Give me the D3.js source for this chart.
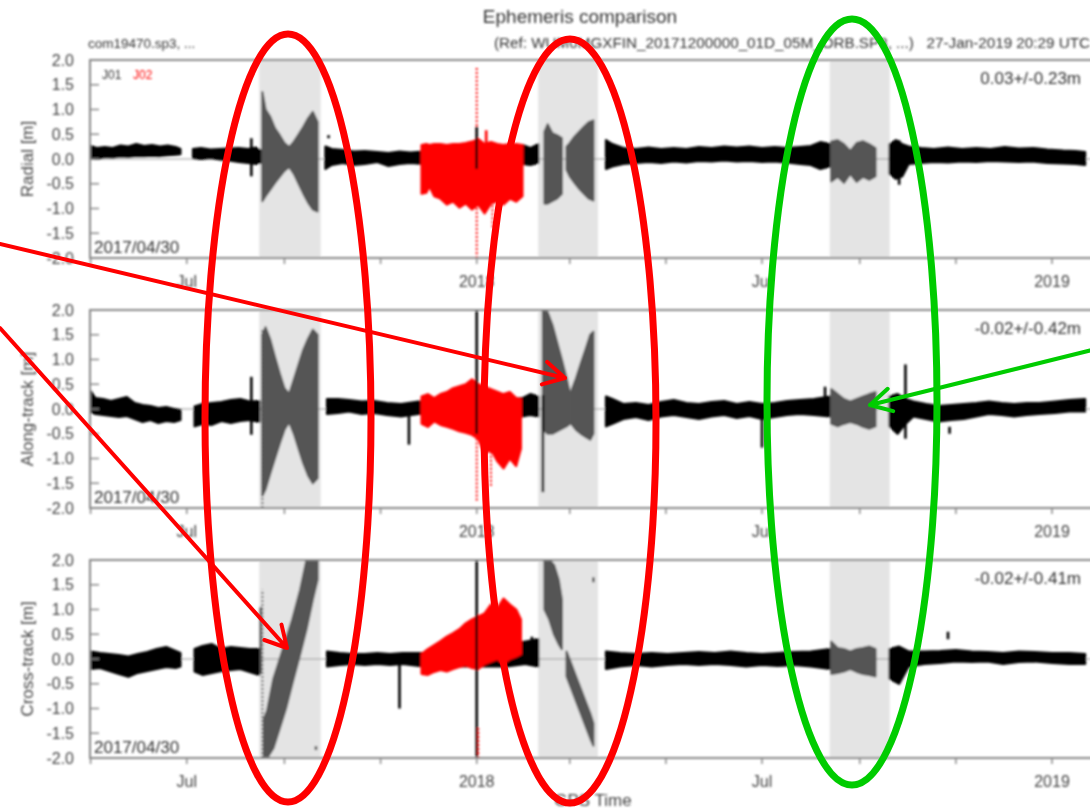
<!DOCTYPE html>
<html>
<head>
<meta charset="utf-8">
<script src="https://cdn.jsdelivr.net/npm/d3@7"></script>
<style>
  body { margin: 0; background: #fff; }
  svg { display: block; font-family: "Liberation Sans", Arial, sans-serif; }
</style>
</head>
<body>
<div id="chart"></div>
<script>
const FRAME_WIDTH = 1090;
const FRAME_HEIGHT = 811;
const PLOT = {left: 90, right: 1093, height: 198};
const PANEL_TOPS = [60, 310, 560];

// ---------- data ----------
const dateRange = ["2017-04-30", "2019-01-27"];
const yTickValues = [2.0, 1.5, 1.0, 0.5, 0.0, -0.5, -1.0, -1.5, -2.0];
const xLabelMonths = {0: "year", 6: "Jul"};

// eclipse seasons (grey background)
const shadedPeriods = [
    ["2017-08-16", "2017-09-24"],
    ["2018-02-09", "2018-03-19"],
    ["2018-08-13", "2018-09-20"]
];

const panelLabels = ["Radial [m]", "Along-track [m]", "Cross-track [m]"];
const panelStats = ["0.03+/-0.23m", "-0.02+/-0.42m", "-0.02+/-0.41m"];

// each band: [date, low, high] in metres
const radialBlack = [
    [["2017-05-01",0.02,0.26],["2017-05-05",0.0,0.22],["2017-05-10",0.04,0.24],["2017-05-15",0.03,0.22],["2017-05-20",0.05,0.27],["2017-05-25",0.04,0.25],["2017-05-30",0.06,0.3],["2017-06-04",0.06,0.26],["2017-06-09",0.07,0.28],["2017-06-14",0.06,0.25],["2017-06-19",0.08,0.27],["2017-06-24",0.09,0.24],["2017-06-27",0.1,0.2]],
    [["2017-07-05",0.02,0.2],["2017-07-10",0.0,0.22],["2017-07-16",0.02,0.19],["2017-07-22",-0.01,0.2],["2017-07-28",-0.03,0.21],["2017-08-03",-0.06,0.22],["2017-08-09",-0.08,0.2],["2017-08-14",-0.1,0.23],["2017-08-18",-0.06,0.15]],
    [["2017-09-27",-0.2,0.25],["2017-10-01",-0.12,0.2],["2017-10-08",-0.08,0.18],["2017-10-15",-0.12,0.15],["2017-10-22",-0.1,0.16],["2017-10-30",-0.06,0.14],["2017-11-06",-0.14,0.12],["2017-11-13",-0.1,0.15],["2017-11-20",-0.08,0.13],["2017-11-28",-0.1,0.15],["2017-12-20",-0.1,0.15],["2018-01-15",-0.1,0.16],["2018-01-30",-0.1,0.28],["2018-02-04",-0.12,0.22],["2018-02-09",-0.08,0.3]],
    [["2018-03-24",-0.2,0.38],["2018-03-28",-0.15,0.3],["2018-04-04",-0.1,0.22],["2018-04-12",-0.08,0.2],["2018-04-20",-0.06,0.23],["2018-04-28",-0.08,0.2],["2018-05-06",-0.05,0.22],["2018-05-14",-0.07,0.2],["2018-05-22",-0.04,0.24],["2018-05-30",-0.05,0.22],["2018-06-07",-0.03,0.25],["2018-06-15",-0.05,0.23],["2018-06-23",-0.04,0.25],["2018-07-01",-0.06,0.22],["2018-07-09",-0.05,0.24],["2018-07-17",-0.07,0.22],["2018-07-25",-0.1,0.24],["2018-08-01",-0.12,0.26],["2018-08-07",-0.2,0.34],["2018-08-13",-0.15,0.3]],
    [["2018-09-20",-0.3,0.3],["2018-09-24",-0.4,0.38],["2018-09-28",-0.35,0.3],["2018-10-02",-0.1,0.25],["2018-10-10",-0.08,0.22],["2018-10-18",-0.06,0.2],["2018-10-27",-0.07,0.23],["2018-11-05",-0.05,0.2],["2018-11-14",-0.06,0.22],["2018-11-23",-0.04,0.2],["2018-12-02",-0.05,0.24],["2018-12-11",-0.06,0.21],["2018-12-20",-0.05,0.22],["2018-12-29",-0.08,0.19],["2019-01-08",-0.09,0.17],["2019-01-16",-0.1,0.16],["2019-01-22",-0.12,0.14]]
];
const radialGrey = [
    [["2017-08-18",-0.85,1.35],["2017-08-20",-0.75,1.0],["2017-08-23",-0.62,0.85],["2017-08-26",-0.48,0.62],["2017-08-29",-0.36,0.48],["2017-09-01",-0.24,0.32],["2017-09-04",-0.16,0.24],["2017-09-07",-0.3,0.35],["2017-09-10",-0.5,0.5],["2017-09-13",-0.7,0.65],["2017-09-16",-0.88,0.82],["2017-09-19",-1.02,0.95],["2017-09-22",-1.06,0.75]],
    [["2018-02-13",-0.9,0.55],["2018-02-15",-0.9,0.7],["2018-02-18",-0.85,0.52],["2018-02-21",-0.8,0.48],["2018-02-24",-0.7,0.42]],
    [["2018-02-27",-0.22,0.25],["2018-03-01",-0.35,0.32],["2018-03-04",-0.48,0.45],["2018-03-07",-0.6,0.55],["2018-03-10",-0.7,0.65],["2018-03-13",-0.8,0.74],["2018-03-16",-0.84,0.78]],
    [["2018-08-14",-0.45,0.35],["2018-08-18",-0.36,0.38],["2018-08-22",-0.48,0.3],["2018-08-26",-0.3,0.16],["2018-08-30",-0.46,0.32],["2018-09-03",-0.36,0.36],["2018-09-07",-0.42,0.3],["2018-09-11",-0.35,0.22]]
];
const radialRed = [
    [["2017-11-27",-0.7,0.28],["2017-11-30",-0.68,0.3],["2017-12-02",-0.55,0.28],["2017-12-05",-0.75,0.3],["2017-12-09",-0.8,0.3],["2017-12-13",-0.92,0.28],["2017-12-17",-0.86,0.3],["2017-12-21",-0.98,0.3],["2017-12-25",-0.9,0.32],["2017-12-29",-1.02,0.35],["2018-01-02",-0.92,0.4],["2018-01-06",-1.1,0.3],["2018-01-10",-0.9,0.34],["2018-01-14",-0.86,0.3],["2018-01-18",-0.92,0.28],["2018-01-22",-0.8,0.3],["2018-01-26",-0.86,0.3],["2018-01-30",-0.75,0.28]]
];
// vertical spikes: [date, low, high, colour, dotted]
const radialSpikes = [
    ["2017-08-11",-0.35,0.42,"black",false],
    ["2017-09-29",0.42,0.48,"black",false],
    ["2018-01-01",-2.0,1.85,"red",true],
    ["2018-01-01",-0.2,0.65,"black",false],
    ["2018-01-07",-0.3,0.58,"red",false],
    ["2018-01-11",-1.38,-0.5,"red",true],
    ["2018-09-26",-0.52,0.38,"black",false]
];

const alongBlack = [
    [["2017-05-01",-0.05,0.36],["2017-05-04",-0.1,0.22],["2017-05-09",-0.12,0.2],["2017-05-14",-0.14,0.16],["2017-05-19",-0.16,0.2],["2017-05-24",-0.14,0.24],["2017-05-29",-0.2,0.12],["2017-06-03",-0.26,0.08],["2017-06-08",-0.22,0.06],["2017-06-13",-0.28,0.02],["2017-06-18",-0.24,0.04],["2017-06-23",-0.26,0.0],["2017-06-27",-0.22,-0.02]],
    [["2017-07-06",-0.35,0.05],["2017-07-11",-0.3,0.1],["2017-07-17",-0.32,0.12],["2017-07-23",-0.24,0.14],["2017-07-29",-0.28,0.18],["2017-08-04",-0.24,0.2],["2017-08-10",-0.22,0.15],["2017-08-16",-0.26,0.16]],
    [["2017-09-28",-0.1,0.2],["2017-10-05",-0.08,0.2],["2017-10-12",-0.05,0.18],["2017-10-20",-0.1,0.15],["2017-10-28",-0.08,0.16],["2017-11-05",-0.12,0.12],["2017-11-14",-0.15,0.1],["2017-11-25",-0.1,0.15],["2017-12-15",-0.1,0.15],["2018-01-10",-0.12,0.15],["2018-01-30",-0.15,0.22],["2018-02-04",-0.12,0.3],["2018-02-09",-0.15,0.25]],
    [["2018-03-24",-0.35,0.25],["2018-03-28",-0.3,0.2],["2018-04-04",-0.2,0.1],["2018-04-12",-0.16,0.12],["2018-04-20",-0.22,0.08],["2018-04-28",-0.15,0.14],["2018-05-06",-0.12,0.18],["2018-05-14",-0.16,0.12],["2018-05-22",-0.2,0.1],["2018-05-30",-0.15,0.14],["2018-06-07",-0.12,0.16],["2018-06-15",-0.18,0.1],["2018-06-23",-0.14,0.14],["2018-07-01",-0.2,0.1],["2018-07-09",-0.16,0.12],["2018-07-17",-0.12,0.16],["2018-07-25",-0.1,0.18],["2018-08-03",-0.12,0.2],["2018-08-13",-0.15,0.25]],
    [["2018-09-20",-0.35,0.25],["2018-09-25",-0.5,0.3],["2018-09-30",-0.3,0.2],["2018-10-05",-0.15,0.15],["2018-10-13",-0.2,0.1],["2018-10-21",-0.25,0.06],["2018-10-29",-0.22,0.08],["2018-11-06",-0.2,0.1],["2018-11-14",-0.15,0.12],["2018-11-22",-0.1,0.15],["2018-11-30",-0.12,0.12],["2018-12-08",-0.15,0.1],["2018-12-16",-0.12,0.12],["2018-12-24",-0.1,0.12],["2019-01-03",-0.08,0.15],["2019-01-12",-0.05,0.18],["2019-01-22",-0.05,0.2]]
];
const alongGrey = [
    [["2017-08-18",-1.75,1.5],["2017-08-20",-1.62,1.65],["2017-08-23",-1.3,1.4],["2017-08-26",-1.0,1.05],["2017-08-29",-0.7,0.72],["2017-09-01",-0.42,0.42],["2017-09-04",-0.26,0.3],["2017-09-07",-0.5,0.6],["2017-09-10",-0.8,0.9],["2017-09-13",-1.1,1.2],["2017-09-16",-1.34,1.42],["2017-09-19",-1.5,1.6],["2017-09-22",-1.4,1.5]],
    [["2018-02-12",-0.4,2.0],["2018-02-15",-0.5,1.95],["2018-02-18",-0.5,1.7],["2018-02-21",-0.45,1.35],["2018-02-24",-0.4,1.0],["2018-02-27",-0.35,0.62],["2018-03-01",-0.3,0.32]],
    [["2018-03-02",-0.3,0.36],["2018-03-05",-0.42,0.62],["2018-03-08",-0.5,0.92],["2018-03-11",-0.56,1.2],["2018-03-14",-0.62,1.5],["2018-03-16",-0.5,1.56]],
    [["2018-08-14",-0.3,0.4],["2018-08-18",-0.35,0.3],["2018-08-22",-0.3,0.2],["2018-08-26",-0.26,0.15],["2018-08-30",-0.3,0.2],["2018-09-03",-0.36,0.25],["2018-09-07",-0.4,0.3],["2018-09-11",-0.35,0.34]]
];
const alongRed = [
    [["2017-11-27",-0.3,0.25],["2017-12-01",-0.36,0.3],["2017-12-05",-0.25,0.22],["2017-12-09",-0.32,0.3],["2017-12-13",-0.36,0.34],["2017-12-17",-0.4,0.42],["2017-12-21",-0.45,0.46],["2017-12-25",-0.48,0.5],["2017-12-29",-0.52,0.6],["2018-01-02",-0.6,0.5],["2018-01-06",-0.9,0.45],["2018-01-10",-0.82,0.4],["2018-01-14",-1.05,0.35],["2018-01-18",-1.2,0.3],["2018-01-22",-1.0,0.34],["2018-01-26",-1.15,0.22],["2018-01-29",-0.8,0.2]]
];
const alongSpikes = [
    ["2017-08-11",-0.52,0.65,"black",false],
    ["2017-08-18",-2.0,1.6,"#555",true],
    ["2017-11-19",-0.72,0.1,"black",false],
    ["2018-01-01",-1.85,0.5,"red",true],
    ["2018-01-01",-0.5,2.0,"black",false],
    ["2018-01-10",-1.55,-0.6,"red",true],
    ["2018-02-12",-1.68,0.28,"black",false],
    ["2018-07-01",-0.78,0.1,"black",false],
    ["2018-08-10",0.0,0.45,"black",false],
    ["2018-09-30",-0.6,0.9,"black",false],
    ["2018-10-28",-0.5,-0.36,"black",false]
];

const crossBlack = [
    [["2017-05-01",-0.2,0.15],["2017-05-07",-0.18,0.12],["2017-05-13",-0.24,0.1],["2017-05-19",-0.3,0.08],["2017-05-25",-0.36,0.05],["2017-05-31",-0.28,0.1],["2017-06-06",-0.24,0.14],["2017-06-12",-0.2,0.2],["2017-06-18",-0.16,0.24],["2017-06-24",-0.18,0.16],["2017-06-27",-0.15,0.12]],
    [["2017-07-06",-0.25,0.2],["2017-07-11",-0.32,0.26],["2017-07-17",-0.28,0.3],["2017-07-23",-0.24,0.2],["2017-07-29",-0.22,0.24],["2017-08-04",-0.2,0.22],["2017-08-10",-0.26,0.2],["2017-08-16",-0.32,0.2]],
    [["2017-09-28",-0.15,0.15],["2017-10-06",-0.12,0.12],["2017-10-14",-0.1,0.1],["2017-10-22",-0.12,0.1],["2017-10-30",-0.1,0.12],["2017-11-07",-0.12,0.1],["2017-11-15",-0.1,0.12],["2017-11-28",-0.15,0.12],["2018-01-01",-0.15,0.2],["2018-01-20",-0.15,0.3],["2018-02-01",-0.1,0.35],["2018-02-09",-0.15,0.4]],
    [["2018-03-24",-0.2,0.15],["2018-04-02",-0.15,0.12],["2018-04-12",-0.12,0.1],["2018-04-22",-0.15,0.12],["2018-05-02",-0.12,0.1],["2018-05-12",-0.1,0.12],["2018-05-22",-0.12,0.14],["2018-06-01",-0.1,0.12],["2018-06-11",-0.12,0.15],["2018-06-21",-0.15,0.12],["2018-07-01",-0.12,0.1],["2018-07-11",-0.14,0.12],["2018-07-21",-0.12,0.14],["2018-08-01",-0.15,0.15],["2018-08-13",-0.2,0.2]],
    [["2018-09-20",-0.4,0.2],["2018-09-26",-0.5,0.25],["2018-10-02",-0.15,0.15],["2018-10-12",-0.1,0.15],["2018-10-22",-0.08,0.16],["2018-11-01",-0.05,0.18],["2018-11-11",-0.06,0.15],["2018-11-21",-0.05,0.14],["2018-12-01",-0.1,0.12],["2018-12-11",-0.06,0.15],["2018-12-21",-0.05,0.14],["2019-01-01",-0.08,0.12],["2019-01-12",-0.1,0.12],["2019-01-22",-0.1,0.1]]
];
const crossGrey = [
    [["2017-08-19",-2.0,-1.2],["2017-08-21",-2.0,-1.05],["2017-08-25",-1.8,-0.4],["2017-08-29",-1.4,0.0],["2017-09-02",-1.0,0.4],["2017-09-06",-0.5,0.8],["2017-09-11",0.1,1.4],["2017-09-15",0.6,2.0],["2017-09-19",1.2,2.0],["2017-09-22",1.6,2.0]],
    [["2018-02-13",1.0,2.0],["2018-02-16",0.8,2.0],["2018-02-19",0.5,1.9],["2018-02-22",0.3,1.6],["2018-02-24",0.2,1.2]],
    [["2018-02-27",-0.35,0.15],["2018-03-02",-0.6,-0.1],["2018-03-05",-0.85,-0.35],["2018-03-08",-1.1,-0.6],["2018-03-11",-1.35,-0.85],["2018-03-14",-1.6,-1.1],["2018-03-16",-1.75,-1.3]],
    [["2018-08-14",-0.3,0.35],["2018-08-18",-0.28,0.22],["2018-08-22",-0.25,0.2],["2018-08-26",-0.2,0.15],["2018-08-30",-0.26,0.2],["2018-09-03",-0.3,0.22],["2018-09-07",-0.32,0.25],["2018-09-11",-0.35,0.2]]
];
const crossRed = [
    [["2017-11-27",-0.3,0.1],["2017-12-01",-0.32,0.2],["2017-12-05",-0.26,0.28],["2017-12-09",-0.22,0.36],["2017-12-13",-0.25,0.45],["2017-12-17",-0.2,0.52],["2017-12-21",-0.16,0.6],["2017-12-25",-0.12,0.72],["2017-12-29",-0.18,0.8],["2018-01-02",-0.2,0.86],["2018-01-06",-0.1,0.92],["2018-01-10",-0.05,1.1],["2018-01-14",0.0,1.02],["2018-01-18",-0.1,1.22],["2018-01-22",0.0,1.1],["2018-01-26",0.05,1.0],["2018-01-29",0.1,0.8]]
];
const crossSpikes = [
    ["2017-08-17",-0.3,1.05,"#555",false],
    ["2017-08-18",-2.0,1.4,"#555",true],
    ["2017-09-21",-1.84,-1.76,"#555",false],
    ["2017-11-13",-1.0,0.0,"black",false],
    ["2018-01-01",-2.0,2.0,"black",false],
    ["2018-01-02",-2.0,-1.4,"red",true],
    ["2018-02-05",0.0,0.45,"black",false],
    ["2018-03-16",1.55,1.65,"#555",false],
    ["2018-10-27",0.4,0.55,"black",false]
];

// overlay annotations (drawn on top of the image, pixel units)
const ellipses = [
    {cx: 288, cy: 418, rx: 83, ry: 384, color: "#ff0000"},
    {cx: 570, cy: 421, rx: 86, ry: 382, color: "#ff0000"},
    {cx: 852, cy: 402, rx: 85, ry: 383, color: "#00cc00"}
];
const arrows = [
    {x1: 0, y1: 244, x2: 565, y2: 378, color: "#ff0000"},
    {x1: 0, y1: 328, x2: 287, y2: 648, color: "#ff0000"},
    {x1: 1092, y1: 350, x2: 870, y2: 405, color: "#00cc00"}
];

// ---------- build ----------
const parse = d3.utcParse("%Y-%m-%d");
const toBand = (seg) => seg.map((d) => ({date: parse(d[0]), lo: d[1], hi: d[2]}));

const panels = [
    {black: radialBlack, grey: radialGrey, red: radialRed, spikes: radialSpikes},
    {black: alongBlack, grey: alongGrey, red: alongRed, spikes: alongSpikes},
    {black: crossBlack, grey: crossGrey, red: crossRed, spikes: crossSpikes}
];

const SVG = d3.select("#chart")
    .append("svg")
    .attr("width", FRAME_WIDTH)
    .attr("height", FRAME_HEIGHT);

const defs = SVG.append("defs");
defs.append("filter").attr("id", "soft")
    .attr("x", "-2%").attr("y", "-2%").attr("width", "104%").attr("height", "104%")
    .append("feGaussianBlur").attr("stdDeviation", 0.8);

const x = d3.scaleUtc()
    .domain(dateRange.map(parse))
    .range([PLOT.left - 1, PLOT.right]);

const chart = SVG.append("g").attr("filter", "url(#soft)");

// header
chart.append("text")
    .attr("x", 580).attr("y", 23)
    .attr("text-anchor", "middle")
    .attr("font-size", 19).attr("fill", "#333")
    .text("Ephemeris comparison");
chart.append("text")
    .attr("x", 88).attr("y", 48)
    .attr("font-size", 13.5).attr("fill", "#333")
    .text("com19470.sp3, ...");
chart.append("text")
    .attr("x", 494).attr("y", 48)
    .attr("font-size", 14).attr("fill", "#333")
    .attr("textLength", 596)
    .attr("lengthAdjust", "spacingAndGlyphs")
    .attr("xml:space", "preserve")
    .text("(Ref: WUM0MGXFIN_20171200000_01D_05M_ORB.SP3, ...)   27-Jan-2019 20:29 UTC");

const xTicks = x.ticks(d3.utcMonth.every(2));

panels.forEach((p, i) => {
    const top = PANEL_TOPS[i];
    const bottom = top + PLOT.height;
    const y = d3.scaleLinear().domain([-2, 2]).range([bottom, top]);
    const g = chart.append("g");

    const clipId = "clip" + i;
    defs.append("clipPath").attr("id", clipId)
        .append("rect")
        .attr("x", PLOT.left).attr("y", top)
        .attr("width", PLOT.right - PLOT.left).attr("height", PLOT.height);

    const inner = g.append("g").attr("clip-path", "url(#" + clipId + ")");

    // shaded eclipse seasons
    inner.selectAll("rect.shade")
        .data(shadedPeriods)
        .enter()
        .append("rect")
        .attr("class", "shade")
        .attr("x", (d) => x(parse(d[0])))
        .attr("y", top)
        .attr("width", (d) => x(parse(d[1])) - x(parse(d[0])))
        .attr("height", PLOT.height)
        .attr("fill", "#e4e4e4");

    // zero line
    inner.append("line")
        .attr("x1", PLOT.left).attr("x2", PLOT.right)
        .attr("y1", y(0)).attr("y2", y(0))
        .attr("stroke", "#999").attr("stroke-width", 1.2);

    const area = d3.area()
        .x((d) => x(d.date))
        .y0((d) => y(d.lo))
        .y1((d) => y(d.hi));

    const drawBands = (list, color) => {
        inner.append("g")
            .selectAll("path")
            .data(list.map(toBand))
            .enter()
            .append("path")
            .attr("d", area)
            .attr("fill", color)
            .attr("stroke", color)
            .attr("stroke-width", 2.2)
            .attr("stroke-linejoin", "round");
    };
    drawBands(p.black, "#000");
    drawBands(p.grey, "#555");
    drawBands(p.red, "#ff0000");

    inner.append("g")
        .selectAll("line")
        .data(p.spikes)
        .enter()
        .append("line")
        .attr("x1", (d) => x(parse(d[0])))
        .attr("x2", (d) => x(parse(d[0])))
        .attr("y1", (d) => y(d[1]))
        .attr("y2", (d) => y(d[2]))
        .attr("stroke", (d) => d[3])
        .attr("stroke-width", (d) => d[4] ? 2 : 2.6)
        .attr("stroke-dasharray", (d) => d[4] ? "2,2" : null);

    // frame: top, left, bottom
    g.append("path")
        .attr("d", "M" + (PLOT.right + 5) + "," + top + "H" + PLOT.left + "V" + bottom + "H" + (PLOT.right + 5))
        .attr("fill", "none")
        .attr("stroke", "#888")
        .attr("stroke-width", 2);

    // y ticks (inward) and labels
    g.append("g")
        .selectAll("line")
        .data(yTickValues)
        .enter()
        .append("line")
        .attr("x1", PLOT.left).attr("x2", PLOT.left + 9)
        .attr("y1", (d) => y(d)).attr("y2", (d) => y(d))
        .attr("stroke", "#888").attr("stroke-width", 1.5);
    g.append("g")
        .selectAll("text")
        .data(yTickValues)
        .enter()
        .append("text")
        .attr("x", 74)
        .attr("y", (d) => y(d) + 5.5)
        .attr("text-anchor", "end")
        .attr("font-size", 16)
        .attr("fill", "#444")
        .text((d) => d.toFixed(1));

    // x ticks (outward) and labels
    g.append("g")
        .selectAll("line")
        .data(xTicks)
        .enter()
        .append("line")
        .attr("x1", (d) => x(d)).attr("x2", (d) => x(d))
        .attr("y1", bottom).attr("y2", bottom + 6)
        .attr("stroke", "#888").attr("stroke-width", 1.5);
    g.append("g")
        .selectAll("text")
        .data(xTicks.filter((d) => xLabelMonths[d.getUTCMonth()]))
        .enter()
        .append("text")
        .attr("x", (d) => x(d))
        .attr("y", bottom + 29)
        .attr("text-anchor", "middle")
        .attr("font-size", 16)
        .attr("fill", "#444")
        .text((d) => xLabelMonths[d.getUTCMonth()] == "year" ? d.getUTCFullYear() : xLabelMonths[d.getUTCMonth()]);

    // axis title
    g.append("text")
        .attr("transform", "translate(33," + (top + PLOT.height / 2) + ") rotate(-90)")
        .attr("text-anchor", "middle")
        .attr("font-size", 17)
        .attr("fill", "#444")
        .text(panelLabels[i]);

    // statistics, start date
    g.append("text")
        .attr("x", 1081).attr("y", top + 24)
        .attr("text-anchor", "end")
        .attr("font-size", 17)
        .attr("fill", "#333")
        .text(panelStats[i]);
    g.append("text")
        .attr("x", 94).attr("y", bottom - 5)
        .attr("font-size", 17)
        .attr("fill", "#333")
        .text("2017/04/30");

    if (i == 0) {
        g.append("text").attr("x", 102).attr("y", top + 19)
            .attr("font-size", 12).attr("fill", "#333").text("J01");
        g.append("text").attr("x", 133).attr("y", top + 19)
            .attr("font-size", 12).attr("fill", "#ff0000").text("J02");
    }
});

chart.append("text")
    .attr("x", 593).attr("y", 806)
    .attr("text-anchor", "middle")
    .attr("font-size", 17)
    .attr("fill", "#444")
    .text("GPS Time");

// ---------- overlay annotations ----------
const overlay = SVG.append("g");
overlay.selectAll("ellipse")
    .data(ellipses)
    .enter()
    .append("ellipse")
    .attr("cx", (d) => d.cx).attr("cy", (d) => d.cy)
    .attr("rx", (d) => d.rx).attr("ry", (d) => d.ry)
    .attr("fill", "none")
    .attr("stroke", (d) => d.color)
    .attr("stroke-width", 7);

arrows.forEach((a) => {
    const ang = Math.atan2(a.y2 - a.y1, a.x2 - a.x1);
    const len = 24, spread = 0.5;
    const head = [ang - spread, ang + spread].map((t) => [a.x2 - len * Math.cos(t), a.y2 - len * Math.sin(t)]);
    overlay.append("path")
        .attr("d", "M" + a.x1 + "," + a.y1 + "L" + a.x2 + "," + a.y2 +
            "M" + head[0][0] + "," + head[0][1] + "L" + a.x2 + "," + a.y2 + "L" + head[1][0] + "," + head[1][1])
        .attr("fill", "none")
        .attr("stroke", a.color)
        .attr("stroke-width", 4)
        .attr("stroke-linecap", "round")
        .attr("stroke-linejoin", "round");
});
</script>
</body>
</html>
